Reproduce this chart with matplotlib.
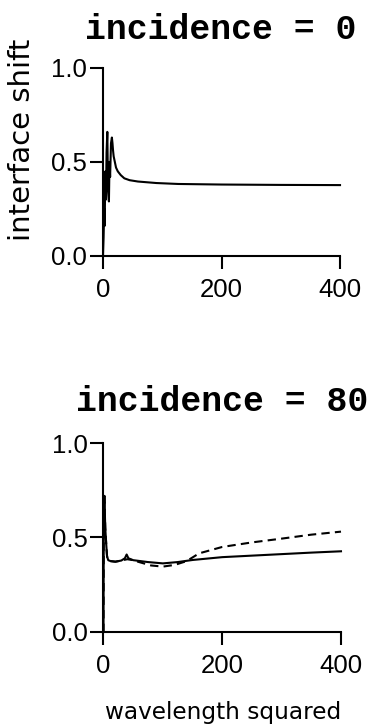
# Interface shift vs. wavelength squared at two incidence angles
import matplotlib
matplotlib.use("Agg")
import matplotlib.pyplot as plt

# incidence = 0 (solid)
x_top = [0, 1, 2, 2.8, 4, 5, 6, 7.3, 8.5, 10, 11, 12, 13.5, 15, 16, 17, 18,
         20, 22, 25, 30, 36, 45, 59, 90, 127, 200, 300, 400]
y_top = [0.0, 0.1, 0.25, 0.16, 0.45, 0.3, 0.55, 0.66, 0.35, 0.29, 0.5, 0.42,
         0.6, 0.63, 0.6, 0.56, 0.53, 0.5, 0.47, 0.45, 0.43, 0.413, 0.403,
         0.396, 0.388, 0.383, 0.38, 0.378, 0.377]

# incidence = 80, solid curve
x_bot = [0, 0.5, 1.5, 3, 4.5, 6, 8, 12, 20, 30, 36, 39, 42, 50, 75, 100,
         125, 150, 200, 250, 300, 350, 400]
y_bot = [0.0, 0.6, 0.72, 0.55, 0.47, 0.40, 0.38, 0.375, 0.372, 0.378, 0.39,
         0.41, 0.39, 0.38, 0.37, 0.363, 0.37, 0.381, 0.396, 0.404, 0.412,
         0.42, 0.427]

# incidence = 80, dashed curve
x_dash = [0, 0.5, 1.5, 3, 4.5, 6, 8, 12, 20, 30, 40, 50, 60, 80, 100, 120,
          140, 161, 200, 250, 300, 350, 400]
y_dash = [0.0, 0.6, 0.72, 0.55, 0.47, 0.40, 0.38, 0.375, 0.372, 0.378, 0.385,
          0.38, 0.37, 0.352, 0.346, 0.355, 0.375, 0.416, 0.45, 0.474, 0.494,
          0.515, 0.531]

xticks = [0, 200, 400]
yticks = [0.0, 0.5, 1.0]
ytick_labels = ["0.0", "0.5", "1.0"]

fig = plt.figure(figsize=(3.77, 7.26), dpi=100)
ax1 = fig.add_axes([0.2732, 0.6474, 0.6287, 0.2590])
ax2 = fig.add_axes([0.2745, 0.1295, 0.6300, 0.2603])

for ax in (ax1, ax2):
    ax.set_xlim(0, 400)
    ax.set_ylim(0, 1)
    ax.spines["top"].set_visible(False)
    ax.spines["right"].set_visible(False)
    ax.spines["left"].set_linewidth(1.5)
    ax.spines["bottom"].set_linewidth(1.5)
    ax.set_xticks(xticks)
    ax.set_yticks(yticks)
    ax.set_yticklabels(ytick_labels)
    ax.tick_params(direction="out", length=9.5, width=1.5, labelsize=18.5)
    ax.tick_params(axis="x", pad=6)
    ax.tick_params(axis="y", pad=2)
    for lab in ax.get_xticklabels() + ax.get_yticklabels():
        lab.set_fontfamily("Liberation Sans")

ax1.plot(x_top, y_top, color="black", lw=1.5, clip_on=False)
ax2.plot(x_bot, y_bot, color="black", lw=1.5, clip_on=False)
ax2.plot(x_dash, y_dash, color="black", lw=1.5, dashes=(4, 2.5), clip_on=False)

fig.text(0.586, 0.9587, "incidence = 0", ha="center", va="center",
         fontsize=25, fontweight="bold", family="Liberation Mono")
fig.text(0.590, 0.4463, "incidence = 80", ha="center", va="center",
         fontsize=25, fontweight="bold", family="Liberation Mono")
fig.text(0.058, 0.807, "interface shift", rotation=90, ha="center",
         va="center", fontsize=21, family="DejaVu Sans")
fig.text(0.592, 0.018, "wavelength squared", ha="center", va="center",
         fontsize=16.7, family="DejaVu Sans")

fig.savefig("out.png", dpi=100)
